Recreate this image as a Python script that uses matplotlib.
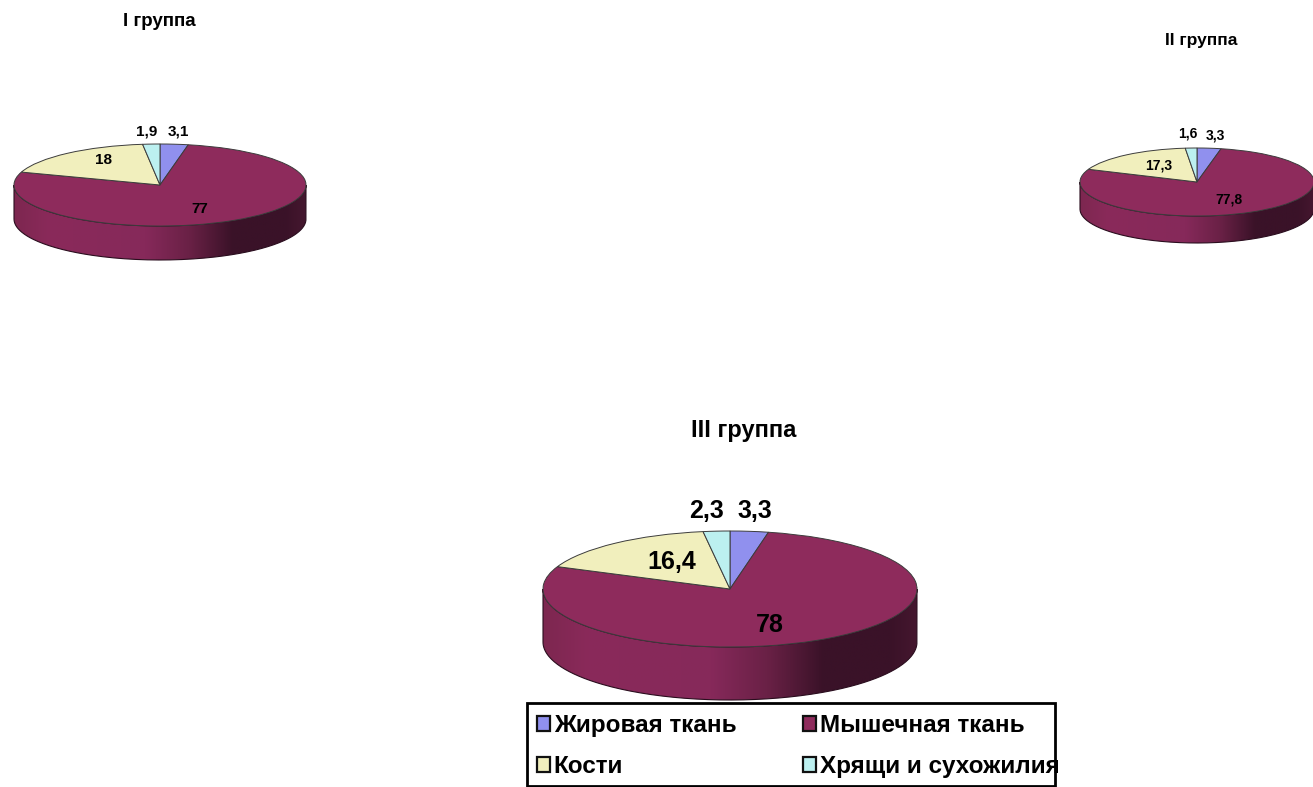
import numpy as np
import matplotlib
matplotlib.use("Agg")
import matplotlib.pyplot as plt
from matplotlib.colors import LinearSegmentedColormap
from matplotlib.patches import Patch, PathPatch, Rectangle
from matplotlib.path import Path

# ---- data ----
categories = ["Жировая ткань", "Мышечная ткань", "Кости", "Хрящи и сухожилия"]
group_names = ["I группа", "II группа", "III группа"]
group1_values = [3.1, 77, 18, 1.9]
group2_values = [3.3, 77.8, 17.3, 1.6]
group3_values = [3.3, 78, 16.4, 2.3]
group1_labels = ["3,1", "77", "18", "1,9"]
group2_labels = ["3,3", "77,8", "17,3", "1,6"]
group3_labels = ["3,3", "78", "16,4", "2,3"]

# ---- style / layout (pixels) ----
W, H = 1313, 787
colors = ["#9090ee", "#8e2b5c", "#f1efbd", "#bcf0f0"]
SANS = ["Liberation Sans", "DejaVu Sans"]
side_cmap = LinearSegmentedColormap.from_list(
    "side", [(0, "#7d2750"), (0.12, "#8a2a5a"), (0.45, "#86295a"), (0.60, "#6a2146"),
             (0.75, "#3a1228"), (0.93, "#3a1228"), (1, "#45172f")])

layouts = [
    dict(vals=group1_values, labs=group1_labels, name=group_names[0],
         c=(160, 185), r=(146, 41), d=34, title=(159, 22), tfs=13.5, lfs=11,
         pos=[(178, 131), (200, 209), (104, 160), (147, 132)]),
    dict(vals=group2_values, labs=group2_labels, name=group_names[1],
         c=(1197, 182), r=(117, 34), d=27, title=(1201, 41), tfs=12.5, lfs=10,
         pos=[(1215, 136), (1229, 200), (1159, 165), (1188, 134)]),
    dict(vals=group3_values, labs=group3_labels, name=group_names[2],
         c=(730, 589), r=(187, 58), d=53, title=(744, 430), tfs=17, lfs=18,
         pos=[(755, 511), (770, 625), (672, 562), (707, 511)]),
]

fig = plt.figure(figsize=(W / 100, H / 100), dpi=100, facecolor="white")
base = fig.add_axes([0, 0, 1, 1])
base.set_xlim(0, W)
base.set_ylim(H, 0)
base.axis("off")


def draw_pie(L):
    cx, cy = L["c"]
    rx, ry = L["r"]
    d = L["d"]
    pad = 2
    left, right = cx - rx - pad, cx + rx + pad
    top, bottom = cy - ry - pad, cy + ry + d + pad
    ax = fig.add_axes([left / W, 1 - bottom / H, (right - left) / W, (bottom - top) / H])
    # rim under the top face
    t = np.linspace(np.pi, 2 * np.pi, 200)
    dy = d / ry
    x = np.cos(t)
    y = np.sin(t)
    verts = np.r_[np.c_[x, y], np.c_[x[::-1], y[::-1] - dy], [[x[0], y[0]]]]
    rim = Path(verts)
    patch = PathPatch(rim, fc="none", ec="#2a0d1e", lw=0.8, zorder=1)
    ax.add_patch(patch)
    im = ax.imshow(np.linspace(0, 1, 256)[None, :], cmap=side_cmap, aspect="auto",
                   extent=(-1, 1, -1 - dy, 1), zorder=0.5)
    im.set_clip_path(patch)
    ax.pie(L["vals"], colors=colors, startangle=90, counterclock=False, radius=1,
           wedgeprops=dict(edgecolor="#3c3c3c", linewidth=0.7, zorder=2))
    ax.set_aspect("auto")
    ax.set_xlim(-1 - pad / rx, 1 + pad / rx)
    ax.set_ylim(-1 - dy - pad / ry, 1 + pad / ry)
    ax.axis("off")

    base.text(*L["title"], L["name"], ha="center", va="center", fontsize=L["tfs"],
              fontweight="bold", family=SANS, color="black")
    for lab, (px, py) in zip(L["labs"], L["pos"]):
        base.text(px, py, lab, ha="center", va="center", fontsize=L["lfs"],
                  fontweight="bold", family=SANS, color="black", zorder=10)


for L in layouts:
    draw_pie(L)
base.set_zorder(5)

base.add_patch(Rectangle((527, 703), 528, 83, fc="white", ec="black", lw=2, zorder=15))

handles = [Patch(facecolor=c, edgecolor="#111111", linewidth=1.6) for c in colors]
# matplotlib fills columns first: reorder so rows read fat, muscle / bones, cartilage
order = [0, 2, 1, 3]
leg = fig.legend([handles[i] for i in order], [categories[i] for i in order], ncol=2,
                 loc="lower left", bbox_to_anchor=(537 / W, 1 - 778 / H),
                 bbox_transform=fig.transFigure, borderaxespad=0,
                 prop=dict(family=SANS, weight="bold", size=17.5),
                 frameon=False,
                 handlelength=0.53, handleheight=0.53, handletextpad=0.16,
                 columnspacing=2.75, labelspacing=0.74, borderpad=0)
leg.set_zorder(20)
fig.savefig("out.png", dpi=100)
